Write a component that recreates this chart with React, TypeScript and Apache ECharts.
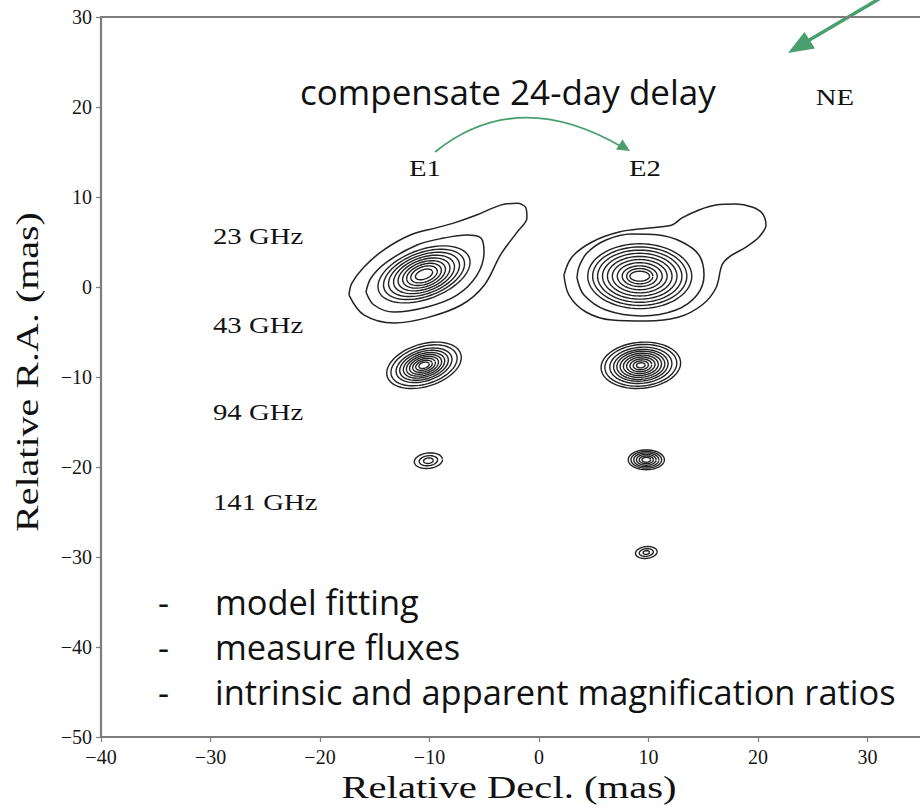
import React, { useEffect, useRef } from "react";
import * as echarts from "echarts";

// ---- axes ----
const X_RANGE: [number, number] = [-40, 40];
const Y_RANGE: [number, number] = [-50, 30];
const TICK_STEP = 10;
const X_TITLE = "Relative Decl. (mas)";
const Y_TITLE = "Relative R.A. (mas)";

// ---- annotations ----
const FREQ_LABELS = ["23 GHz", "43 GHz", "94 GHz", "141 GHz"];
const IMAGE_LABELS = ["E1", "E2"];
const DIRECTION_LABEL = "NE";
const DELAY_NOTE = "compensate 24-day delay";
const BULLETS = ["model fitting", "measure fluxes", "intrinsic and apparent magnification ratios"];

// ---- irregular (outer) contours, [decl, ra] in mas ----
const E1_23_OUTER: [number, number][] = [
  [-17.35, -0.9], [-16.0, -3.1], [-13.2, -4.0], [-10.2, -3.4], [-7.1, -2.0], [-5.0, 0.2],
  [-3.5, 3.6], [-2.0, 6.1], [-1.1, 7.7], [-1.2, 8.8], [-2.0, 9.3], [-3.5, 9.1], [-5.7, 8.0],
  [-7.8, 7.1], [-9.3, 6.6], [-11.7, 5.8], [-14.2, 4.1], [-16.0, 2.2], [-17.1, 0.4],
];
const E1_23_SECOND: [number, number][] = [
  [-15.8, -0.56], [-15.07, -2.0], [-13.24, -2.78], [-10.23, -2.22], [-7.49, -0.89], [-5.66, 1.33],
  [-5.02, 3.89], [-5.3, 5.44], [-6.58, 5.78], [-8.68, 5.44], [-11.14, 4.67], [-13.88, 2.78], [-15.34, 1.0],
];
const E2_23_OUTER: [number, number][] = [
  [2.28, 1.33], [2.74, -0.89], [4.29, -2.78], [6.67, -3.67], [9.77, -3.78], [12.79, -3.33],
  [14.89, -2.0], [16.16, -0.11], [16.71, 2.44], [17.35, 3.33], [18.9, 4.44], [20.09, 5.56],
  [20.73, 6.89], [20.37, 8.22], [19.45, 8.89], [17.99, 9.22], [16.16, 9.11], [14.61, 8.56],
  [13.06, 7.67], [12.15, 6.89], [10.05, 6.56], [7.31, 6.11], [4.84, 5.0], [3.01, 3.33],
];
const E2_23_SECOND: [number, number][] = [
  [3.47, 1.0], [4.11, -0.89], [6.12, -2.56], [9.41, -3.22], [12.51, -2.56], [14.43, -0.89],
  [15.07, 1.33], [14.61, 3.56], [13.06, 5.0], [10.96, 5.78], [8.49, 5.89], [6.12, 5.22],
  [4.38, 3.78], [3.65, 2.22],
];
const IRREGULAR_CONTOURS = [E1_23_OUTER, E1_23_SECOND, E2_23_OUTER, E2_23_SECOND];

// ---- nested elliptical contours: centre, tilt (deg), semi-axes per level (mas) ----
type Component = { name: string; center: [number, number]; tilt: number; a: number[]; b: number[] };
const COMPONENTS: Component[] = [
  { name: "E1 23 GHz", center: [-10.5, 1.4], tilt: 28,
    a: [4.55, 4.0, 3.5, 3.0, 2.55, 2.1, 1.7, 1.3, 0.85], b: [2.65, 2.35, 2.08, 1.82, 1.57, 1.32, 1.07, 0.82, 0.5] },
  { name: "E2 23 GHz", center: [9.2, 1.2], tilt: 0,
    a: [4.75, 4.3, 3.85, 3.4, 2.95, 2.5, 2.05, 1.6, 1.2, 0.9], b: [3.6, 3.25, 2.9, 2.55, 2.2, 1.85, 1.5, 1.15, 0.85, 0.55] },
  { name: "E1 43 GHz", center: [-10.5, -8.7], tilt: 25,
    a: [3.6, 3.2, 2.7, 2.35, 2.0, 1.7, 1.4, 1.1, 0.8, 0.5], b: [2.3, 2.02, 1.7, 1.48, 1.26, 1.07, 0.88, 0.69, 0.5, 0.32] },
  { name: "E2 43 GHz", center: [9.3, -8.7], tilt: 8,
    a: [3.65, 3.3, 2.85, 2.5, 2.2, 1.9, 1.6, 1.3, 1.0, 0.7, 0.4], b: [2.55, 2.3, 2.0, 1.75, 1.55, 1.33, 1.12, 0.91, 0.7, 0.49, 0.28] },
  { name: "E1 94 GHz", center: [-10.1, -19.3], tilt: 10, a: [1.3, 0.85, 0.45], b: [0.85, 0.55, 0.3] },
  { name: "E2 94 GHz", center: [9.8, -19.2], tilt: 0,
    a: [1.65, 1.4, 1.15, 0.9, 0.65, 0.4], b: [1.1, 0.93, 0.77, 0.6, 0.43, 0.27] },
  { name: "E2 141 GHz", center: [9.8, -29.5], tilt: 10, a: [1.0, 0.65, 0.3], b: [0.65, 0.42, 0.2] },
];

const CONTOUR_COLOR = "#222222";
const GREEN = "#4a9f70";
const SERIF = "'Liberation Serif', 'Times New Roman', serif";
const SANS = "'Open Sans', 'Noto Sans', sans-serif";

function ellipsePoints(cx: number, cy: number, a: number, b: number, tiltDeg: number) {
  const th = (tiltDeg * Math.PI) / 180;
  const pts: [number, number][] = [];
  const n = 72;
  for (let i = 0; i <= n; i++) {
    const t = (i / n) * 2 * Math.PI;
    pts.push([
      cx + a * Math.cos(t) * Math.cos(th) - b * Math.sin(t) * Math.sin(th),
      cy + a * Math.cos(t) * Math.sin(th) + b * Math.sin(t) * Math.cos(th),
    ]);
  }
  return pts;
}

const minusFmt = (v: number) => (v < 0 ? "\u2212" + Math.abs(v) : String(v));

function serifText(text: string, x: number, y: number, size: number, align = "center", extra: any = {}) {
  return {
    type: "text",
    x,
    y,
    scaleX: 1.25,
    silent: true,
    ...extra,
    style: {
      text,
      x: 0,
      y: 0,
      font: `${size}px ${SERIF}`,
      fill: "#111111",
      textAlign: align,
      align,
      textVerticalAlign: "middle",
      verticalAlign: "middle",
    },
  };
}

function sansText(text: string, x: number, y: number, size: number) {
  return {
    type: "text",
    x,
    y,
    silent: true,
    style: {
      text,
      x: 0,
      y: 0,
      font: `${size}px ${SANS}`,
      fill: "#111111",
      textAlign: "left",
      align: "left",
      textVerticalAlign: "middle",
      verticalAlign: "middle",
    },
  };
}

export default function App() {
  const ref = useRef<HTMLDivElement>(null);

  useEffect(() => {
    if (!ref.current) return;
    const chart = echarts.init(ref.current, undefined, { renderer: "svg" });

    const contourSeries: any[] = [];
    IRREGULAR_CONTOURS.forEach((pts) => {
      contourSeries.push({
        type: "line",
        data: [...pts, pts[0]],
        smooth: 0.35,
        showSymbol: false,
        symbol: "none",
        silent: true,
        lineStyle: { color: CONTOUR_COLOR, width: 1.5 },
        z: 3,
      });
    });
    COMPONENTS.forEach((c) => {
      c.a.forEach((a, i) => {
        contourSeries.push({
          type: "line",
          data: ellipsePoints(c.center[0], c.center[1], a, c.b[i], c.tilt),
          showSymbol: false,
          symbol: "none",
          silent: true,
          lineStyle: { color: CONTOUR_COLOR, width: 1.4 },
          z: 3,
        });
      });
    });

    const frameLine = { show: true, onZero: false, lineStyle: { color: "#7d7d7d", width: 2.2 } };

    const graphics: any[] = [
      serifText(FREQ_LABELS[0], 213, 236, 23, "left"),
      serifText(FREQ_LABELS[1], 213, 325, 23, "left"),
      serifText(FREQ_LABELS[2], 213, 412, 23, "left"),
      serifText(FREQ_LABELS[3], 213, 502, 23, "left"),
      serifText(IMAGE_LABELS[0], 425, 168, 23),
      serifText(IMAGE_LABELS[1], 645, 168, 23),
      serifText(DIRECTION_LABEL, 835, 97, 23),
      serifText(X_TITLE, 509, 787, 32, "center", { scaleX: 1.27 }),
      serifText(Y_TITLE, 27, 372, 32, "center", { scaleX: 1.25, rotation: Math.PI / 2 }),
      sansText(DELAY_NOTE, 300, 91, 35),
      sansText("-", 158, 601, 34.4),
      sansText("-", 158, 646, 34.4),
      sansText("-", 158, 691, 34.4),
      sansText(BULLETS[0], 215, 601, 34.4),
      sansText(BULLETS[1], 215, 646, 34.4),
      sansText(BULLETS[2], 215, 691, 34.4),
      {
        type: "bezierCurve",
        silent: true,
        shape: { x1: 435, y1: 152, cpx1: 517, cpy1: 86, x2: 622, y2: 147 },
        style: { stroke: GREEN, lineWidth: 1.8, fill: null },
      },
      {
        type: "polygon",
        silent: true,
        shape: { points: [[630, 151], [616, 149.5], [622.5, 139.5]] },
        style: { fill: GREEN },
      },
      {
        type: "line",
        silent: true,
        shape: { x1: 884, y1: -4, x2: 806, y2: 42 },
        style: { stroke: GREEN, lineWidth: 3.5 },
      },
      {
        type: "polygon",
        silent: true,
        shape: { points: [[788, 53], [815, 48.5], [804.5, 32]] },
        style: { fill: GREEN },
      },
    ];

    chart.setOption({
      animation: false,
      backgroundColor: "#ffffff",
      grid: { left: 101, top: 17, width: 876, height: 720, containLabel: false, outerBoundsMode: "none" },
      xAxis: [
        {
          type: "value",
          min: X_RANGE[0],
          max: X_RANGE[1],
          interval: TICK_STEP,
          position: "bottom",
          axisLine: frameLine,
          axisTick: { show: true, inside: false, length: 5, lineStyle: { color: "#7d7d7d", width: 1.2 } },
          axisLabel: {
            show: true,
            showMaxLabel: false,
            margin: 10,
            formatter: minusFmt,
            fontFamily: SERIF,
            fontSize: 20,
            color: "#161616",
          },
          splitLine: { show: false },
        },
        {
          type: "value",
          min: X_RANGE[0],
          max: X_RANGE[1],
          interval: TICK_STEP,
          position: "top",
          axisLine: frameLine,
          axisTick: { show: false },
          axisLabel: { show: false },
          splitLine: { show: false },
        },
      ],
      yAxis: [
        {
          type: "value",
          min: Y_RANGE[0],
          max: Y_RANGE[1],
          interval: TICK_STEP,
          position: "left",
          axisLine: frameLine,
          axisTick: { show: true, inside: false, length: 5, lineStyle: { color: "#7d7d7d", width: 1.2 } },
          axisLabel: {
            show: true,
            margin: 9,
            formatter: minusFmt,
            fontFamily: SERIF,
            fontSize: 20,
            color: "#161616",
          },
          splitLine: { show: false },
        },
        {
          type: "value",
          min: Y_RANGE[0],
          max: Y_RANGE[1],
          interval: TICK_STEP,
          position: "right",
          axisLine: frameLine,
          axisTick: { show: false },
          axisLabel: { show: false },
          splitLine: { show: false },
        },
      ],
      series: contourSeries,
      graphic: { elements: graphics },
    });

    return () => chart.dispose();
  }, []);

  return (
    <div
      ref={ref}
      style={{ position: "fixed", left: 0, top: 0, width: 920, height: 810, background: "#fff" }}
    />
  );
}
